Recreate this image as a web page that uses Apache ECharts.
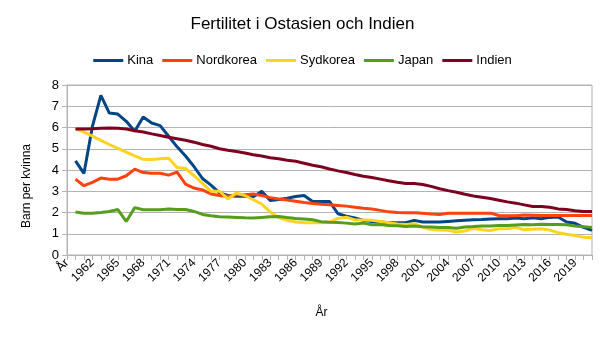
<!DOCTYPE html>
<html><head><meta charset="utf-8">
<script src="https://cdn.jsdelivr.net/npm/echarts@6/dist/echarts.min.js"></script>
<style>html,body{margin:0;padding:0;background:#fff}#c{width:605px;height:341px}</style>
</head><body><div id="c"></div>
<script>
const categories = ['År','1960','1961','1962','1963','1964','1965','1966','1967','1968','1969','1970','1971','1972','1973','1974','1975','1976','1977','1978','1979','1980','1981','1982','1983','1984','1985','1986','1987','1988','1989','1990','1991','1992','1993','1994','1995','1996','1997','1998','1999','2000','2001','2002','2003','2004','2005','2006','2007','2008','2009','2010','2011','2012','2013','2014','2015','2016','2017','2018','2019','2020','2021'];
const kina = [null,4.43,3.84,6.05,7.51,6.68,6.63,6.29,5.82,6.49,6.21,6.09,5.59,5.09,4.66,4.16,3.6,3.29,2.92,2.8,2.76,2.76,2.74,3.0,2.56,2.61,2.67,2.75,2.8,2.52,2.52,2.52,1.94,1.83,1.74,1.63,1.58,1.55,1.52,1.52,1.52,1.63,1.55,1.55,1.55,1.58,1.61,1.64,1.66,1.67,1.69,1.71,1.71,1.74,1.71,1.75,1.71,1.77,1.79,1.55,1.49,1.30,1.16];
const nordkorea = [null,3.57,3.26,3.42,3.62,3.57,3.57,3.73,4.04,3.88,3.85,3.85,3.76,3.9,3.34,3.15,3.06,2.87,2.8,2.76,2.83,2.84,2.87,2.8,2.7,2.64,2.59,2.53,2.47,2.42,2.39,2.36,2.33,2.3,2.25,2.2,2.16,2.1,2.03,2.0,1.99,1.99,1.96,1.93,1.91,1.96,1.97,1.97,1.97,1.97,1.97,1.86,1.85,1.85,1.88,1.87,1.86,1.86,1.86,1.86,1.86,1.86,1.86];
const sydkorea = [null,5.95,5.78,5.59,5.39,5.2,5.02,4.84,4.66,4.5,4.49,4.53,4.55,4.12,4.07,3.73,3.37,3.0,3.0,2.64,2.92,2.8,2.6,2.4,2.02,1.76,1.63,1.55,1.52,1.52,1.52,1.55,1.72,1.78,1.65,1.65,1.64,1.58,1.52,1.46,1.43,1.47,1.31,1.2,1.18,1.16,1.08,1.13,1.26,1.19,1.15,1.23,1.24,1.3,1.19,1.21,1.24,1.17,1.05,0.98,0.92,0.84,0.81];
const japan = [null,2.02,1.97,1.97,2.0,2.05,2.14,1.58,2.23,2.13,2.13,2.13,2.16,2.14,2.14,2.05,1.91,1.85,1.8,1.79,1.77,1.75,1.74,1.77,1.8,1.81,1.76,1.72,1.69,1.66,1.57,1.54,1.53,1.5,1.46,1.5,1.42,1.43,1.39,1.38,1.34,1.36,1.33,1.32,1.29,1.29,1.26,1.32,1.34,1.37,1.37,1.39,1.39,1.41,1.43,1.42,1.45,1.44,1.43,1.42,1.36,1.33,1.30];
const indien = [null,5.93,5.93,5.94,5.97,5.98,5.97,5.93,5.85,5.79,5.70,5.62,5.54,5.47,5.40,5.31,5.2,5.12,5.0,4.93,4.87,4.80,4.72,4.66,4.58,4.53,4.46,4.41,4.32,4.22,4.15,4.05,3.96,3.88,3.79,3.71,3.65,3.57,3.49,3.42,3.37,3.37,3.32,3.23,3.12,3.03,2.95,2.86,2.78,2.72,2.66,2.58,2.5,2.44,2.36,2.28,2.28,2.25,2.17,2.14,2.08,2.05,2.05];
const seriesNames = ['Kina','Nordkorea','Sydkorea','Japan','Indien'];
const seriesData = [kina, nordkorea, sydkorea, japan, indien];
const colors = ['#004586','#ff420e','#ffd320','#579d1c','#7e0021'];

const chart = echarts.init(document.getElementById('c'), null, {renderer:'canvas'});
const FONT = '"Liberation Sans", Arial, sans-serif';
chart.setOption({
  animation: false,
  color: colors,
  textStyle: {fontFamily: FONT},
  title: {
    text: 'Fertilitet i Ostasien och Indien',
    left: 'center', top: 11,
    textStyle: {fontFamily: FONT, fontSize: 17, fontWeight: 'normal', color: '#000'}
  },
  legend: {
    data: seriesNames,
    left: 'center', top: 49,
    itemWidth: 30, itemHeight: 3, itemGap: 9,
    icon: 'rect',
    textStyle: {fontFamily: FONT, fontSize: 13, color: '#000', padding: [0,0,0,-1]}
  },
  grid: {left: 67, right: 13, top: 85, bottom: 86, show: true, borderColor: '#b3b3b3', borderWidth: 1, containLabel: false},
  xAxis: {
    type: 'category',
    data: categories,
    boundaryGap: false,
    name: 'År', nameLocation: 'middle', nameGap: 52,
    nameTextStyle: {fontFamily: FONT, fontSize: 12, color: '#000', padding: [0,16,0,0]},
    axisLine: {lineStyle: {color: '#b3b3b3'}},
    axisTick: {show: true, interval: 0, length: 5, lineStyle: {color: '#b3b3b3'}},
    axisLabel: {interval: 2, rotate: 45, fontFamily: FONT, fontSize: 12, color: '#000', margin: 6},
    splitLine: {show: false}
  },
  yAxis: {
    type: 'value', min: 0, max: 8, interval: 1,
    name: 'Barn per kvinna', nameLocation: 'middle', nameGap: 34,
    nameTextStyle: {fontFamily: FONT, fontSize: 12, color: '#000', padding: [0,32,0,0]},
    axisLine: {show: true, lineStyle: {color: '#b3b3b3'}},
    axisTick: {show: true, length: 5, lineStyle: {color: '#b3b3b3'}},
    axisLabel: {fontFamily: FONT, fontSize: 13, color: '#000', margin: 8},
    splitLine: {show: true, lineStyle: {color: '#b3b3b3', width: 1}}
  },
  series: seriesNames.map((n, i) => ({
    name: n, type: 'line', data: seriesData[i],
    showSymbol: false, symbol: 'none',
    lineStyle: {width: 3, color: colors[i]},
    itemStyle: {color: colors[i]},
    connectNulls: false
  }))
});
</script></body></html>
